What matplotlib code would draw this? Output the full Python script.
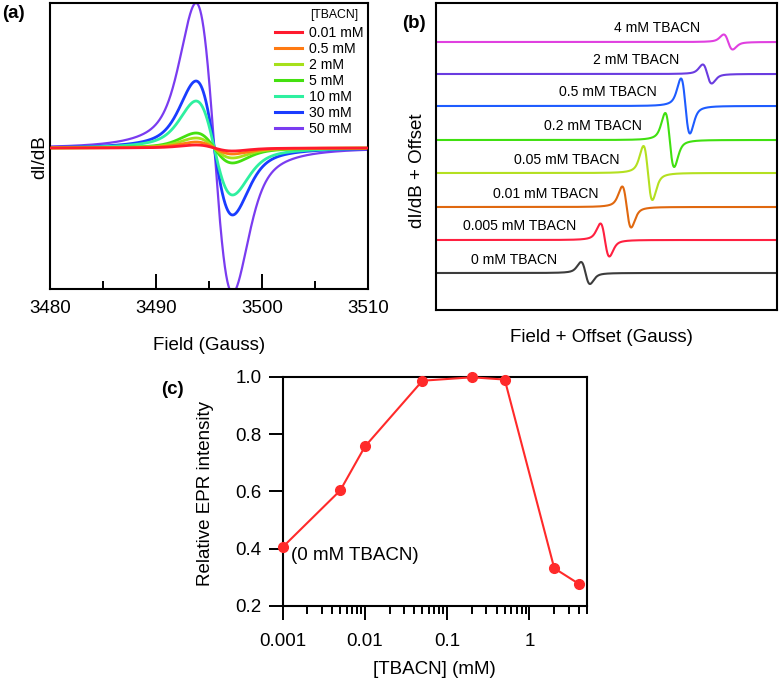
import numpy as np
import matplotlib
matplotlib.use("Agg")
import matplotlib.pyplot as plt
from matplotlib.ticker import MultipleLocator, FixedLocator, FixedFormatter, LogLocator, NullFormatter

plt.rcParams["font.family"] = ["Liberation Sans", "DejaVu Sans"]

# ── (a) EPR spectra vs [TBACN] ─────────────────────────────────────────────
a_labels = ["0.01 mM", "0.5 mM", "2 mM", "5 mM", "10 mM", "30 mM", "50 mM"]
a_colors = ["#ff1a2e", "#ff7a12", "#a6e01a", "#44e010", "#2ef0a0", "#1a3cff", "#7a3cf0"]
a_amp = [3, 6, 10, 15, 47, 67, 145]      # peak height (arb.)
a_center = 3495.5                         # G, zero crossing
a_pp = 3.45                               # G, peak-to-peak width

# ── (b) stacked spectra ───────────────────────────────────────────────────
b_labels = ["0 mM TBACN", "0.005 mM TBACN", "0.01 mM TBACN", "0.05 mM TBACN",
            "0.2 mM TBACN", "0.5 mM TBACN", "2 mM TBACN", "4 mM TBACN"]
b_colors = ["#3c3c3c", "#ff2040", "#e0680f", "#b4e020", "#40e010", "#1e5cff", "#6a3ce0", "#e040e0"]
b_amp = [11, 16.5, 20.5, 27, 27, 27.5, 9.5, 7.5]
b_center = [57.0, 64.4, 72.7, 80.8, 89.1, 95.1, 103.4, 111.4]
b_offset = [37, 70, 103, 137, 170, 204, 236, 268]
b_pp = 3.4

# ── (c) relative intensity ─────────────────────────────────────────────────
c_conc = [0.001, 0.005, 0.01, 0.05, 0.2, 0.5, 2, 4]
c_rel = [0.405, 0.603, 0.757, 0.987, 0.999, 0.991, 0.331, 0.276]

FS = 13.5
RED = "#ff2a2a"


def deriv(B, B0, pp, eta=0.5):
    # first-derivative pseudo-Voigt line, normalised to +1 at the low-field peak
    x = B - B0
    gam = pp * np.sqrt(3) / 2
    sig = pp / 2
    lor = -2 * x / gam**2 / (1 + (x / gam) ** 2) ** 2
    gau = -x / sig**2 * np.exp(-x**2 / (2 * sig**2))
    y = eta * lor / lor.max() + (1 - eta) * gau / gau.max()
    return y / y.max()


fig = plt.figure(figsize=(7.82, 6.84), dpi=100)
W, H = 782, 684


def box(l, t, r, b):
    return [l / W, 1 - b / H, (r - l) / W, (b - t) / H]


# ── panel (a) ──────────────────────────────────────────────────────────────
ax_a = fig.add_axes(box(50, 3, 368, 289))
B = np.linspace(3480, 3510, 3000)
order = [6, 5, 4, 3, 2, 1, 0]
for i in order:
    lw = 1.6 if i == 6 else 2.0
    ax_a.plot(B, a_amp[i] * deriv(B, a_center, a_pp), color=a_colors[i], lw=lw,
              label=a_labels[i], zorder=2 + (6 - i) * 0.1)
ax_a.set_xlim(3480, 3510)
ax_a.set_ylim(-141, 145)
ax_a.xaxis.set_major_locator(MultipleLocator(10))
ax_a.xaxis.set_minor_locator(MultipleLocator(5))
ax_a.tick_params(axis="x", which="both", direction="in", width=1.4, labelsize=FS, pad=8)
ax_a.tick_params(axis="x", which="major", length=11)
ax_a.tick_params(axis="x", which="minor", length=6)
ax_a.set_yticks([])
for sp in ax_a.spines.values():
    sp.set_linewidth(1.5)
ax_a.set_xlabel("Field (Gauss)", fontsize=FS)
ax_a.xaxis.label.set_verticalalignment("center")
ax_a.xaxis.set_label_coords(0.5, -0.196)
ax_a.set_ylabel("dI/dB", fontsize=FS)
ax_a.yaxis.label.set_verticalalignment("center")
ax_a.yaxis.set_label_coords(-0.031, 0.46)
handles, labels = ax_a.get_legend_handles_labels()
hmap = dict(zip(labels, handles))
leg = ax_a.legend([hmap[l] for l in a_labels], a_labels,
                  loc="upper right", bbox_to_anchor=(0.985, 1 - (26 - 3) / 286),
                  frameon=False, fontsize=10.2,
                  handlelength=1.85, handletextpad=0.5, labelspacing=0.14,
                  borderaxespad=0.0, borderpad=0.0)
for h in leg.get_lines():
    h.set_linewidth(2.2)
ax_a.text((310 - 50) / 318, 1 - (15 - 3) / 286, "[TBACN]", transform=ax_a.transAxes,
          ha="left", va="center", fontsize=8.8)

# ── panel (b) ──────────────────────────────────────────────────────────────
ax_b = fig.add_axes(box(436, 3, 777, 310))
X = np.linspace(0, 130, 3000)
for i in range(len(b_labels)):
    ax_b.plot(X, b_offset[i] + b_amp[i] * deriv(X, b_center[i], b_pp),
              color=b_colors[i], lw=1.5)
    ax_b.text(b_center[i] - 10.8, b_offset[i] + 13.5, b_labels[i],
              ha="right", va="center", fontsize=10.1)
ax_b.set_xlim(0, 130)
ax_b.set_ylim(0, 307)
ax_b.set_xticks([])
ax_b.set_yticks([])
for sp in ax_b.spines.values():
    sp.set_linewidth(1.5)
ax_b.set_xlabel("Field + Offset (Gauss)", fontsize=FS)
ax_b.xaxis.label.set_verticalalignment("center")
ax_b.xaxis.set_label_coords(0.485, -0.09)
ax_b.set_ylabel("dI/dB + Offset", fontsize=FS)
ax_b.yaxis.label.set_verticalalignment("center")
ax_b.yaxis.set_label_coords(-0.055, 0.455)

# ── panel (c) ──────────────────────────────────────────────────────────────
ax_c = fig.add_axes(box(282.7, 377, 587, 605.7))
ax_c.plot(c_conc, c_rel, color=RED, lw=1.5, marker="o", ms=7, clip_on=False, zorder=3)
ax_c.set_xscale("log")
ax_c.set_xlim(0.001, 5)
ax_c.set_ylim(0.2, 1.0)
ax_c.xaxis.set_major_locator(FixedLocator([0.001, 0.01, 0.1, 1]))
ax_c.xaxis.set_major_formatter(FixedFormatter(["0.001", "0.01", "0.1", "1"]))
ax_c.xaxis.set_minor_locator(LogLocator(base=10, subs=np.arange(2, 10)))
ax_c.xaxis.set_minor_formatter(NullFormatter())
ax_c.set_yticks([0.2, 0.4, 0.6, 0.8, 1.0])
ax_c.set_yticklabels(["0.2", "0.4", "0.6", "0.8", "1.0"])
ax_c.tick_params(axis="both", which="both", direction="out", width=1.4, labelsize=FS)
ax_c.tick_params(axis="both", which="major", length=10)
ax_c.tick_params(axis="x", which="minor", length=5.5)
ax_c.tick_params(axis="x", which="major", pad=10)
ax_c.tick_params(axis="y", which="major", pad=5)
for sp in ax_c.spines.values():
    sp.set_linewidth(1.5)
ax_c.set_xlabel("[TBACN] (mM)", fontsize=FS)
ax_c.xaxis.label.set_verticalalignment("center")
ax_c.xaxis.set_label_coords(0.5, -0.281)
ax_c.set_ylabel("Relative EPR intensity", fontsize=FS)
ax_c.yaxis.label.set_verticalalignment("center")
ax_c.yaxis.set_label_coords(-0.255, 0.49)
ax_c.annotate("(0 mM TBACN)", xy=(c_conc[0], c_rel[0]), xytext=(6, -6),
              textcoords="offset points", ha="left", va="center", fontsize=FS)

# panel letters
fig.text(2 / W, 1 - 13 / H, "(a)", fontsize=FS, ha="left", va="center", fontweight="bold")
fig.text(402 / W, 1 - 24 / H, "(b)", fontsize=FS, ha="left", va="center", fontweight="bold")
fig.text(161 / W, 1 - 390 / H, "(c)", fontsize=FS, ha="left", va="center", fontweight="bold")

fig.savefig("out.png", dpi=100)
